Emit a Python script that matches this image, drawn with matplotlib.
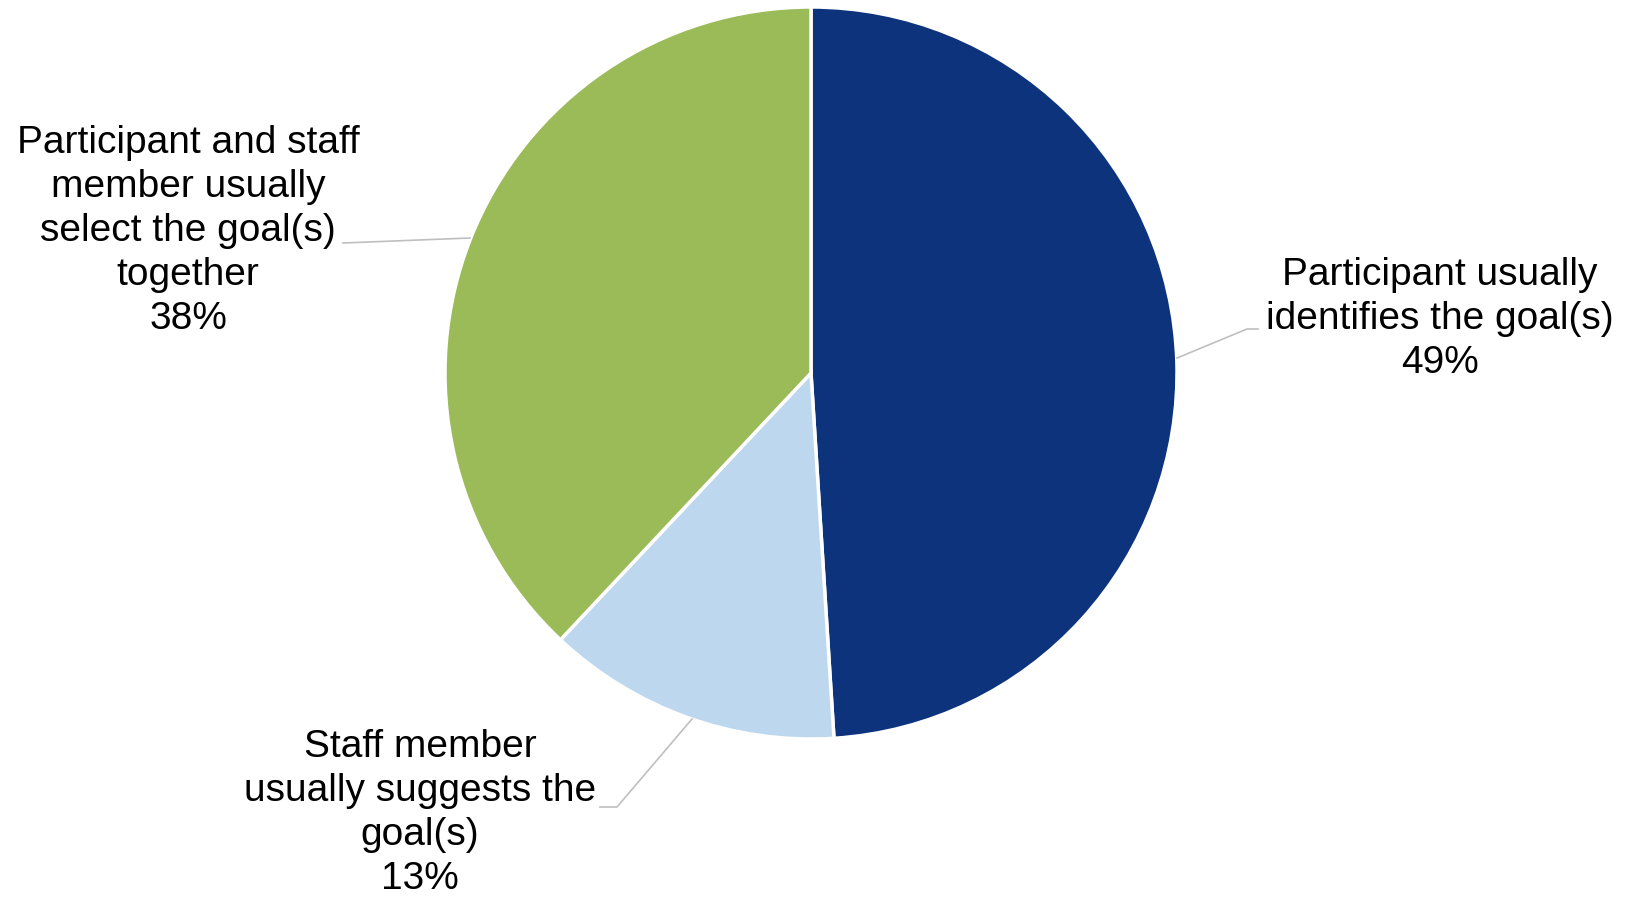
import matplotlib.pyplot as plt

plt.rcParams['font.family'] = ['Liberation Sans', 'DejaVu Sans']

labels = ['Participant usually\nidentifies the goal(s)',
          'Staff member\nusually suggests the\ngoal(s)',
          'Participant and staff\nmember usually\nselect the goal(s)\ntogether']
values = [49, 13, 38]
colors = ['#0C337C', '#BDD7EE', '#9BBB59']

# figure laid out in pixel units (y up)
W, H = 1631, 899
fig = plt.figure(figsize=(W / 100, H / 100), dpi=100)
ax = fig.add_axes([0, 0, 1, 1])

cx, cy, r = 811, H - 373, 366
ax.pie(values, colors=colors, startangle=90, counterclock=False,
       center=(cx, cy), radius=r, frame=True,
       wedgeprops=dict(edgecolor='white', linewidth=2.5))
ax.set_xlim(0, W)
ax.set_ylim(0, H)
ax.set_aspect('equal')
ax.axis('off')

# label centres and leader lines
label_pos = [(1440, H - 319), (420, H - 813), (188, H - 231)]
leaders = [
    [(1177, 358), (1247, 329), (1258, 329)],
    [(692, 719), (617, 807), (600, 807)],
    [(470, 238), (343, 243)],
]

for lab, v, (x, y), pts in zip(labels, values, label_pos, leaders):
    ax.text(x, y, f'{lab}\n{v}%', ha='center', va='center',
            fontsize=28, linespacing=1.29, color='#000000')
    ax.plot([p[0] for p in pts], [H - p[1] for p in pts],
            color='#BFBFBF', linewidth=1.2)

fig.savefig('out.png', dpi=100, facecolor='white')
